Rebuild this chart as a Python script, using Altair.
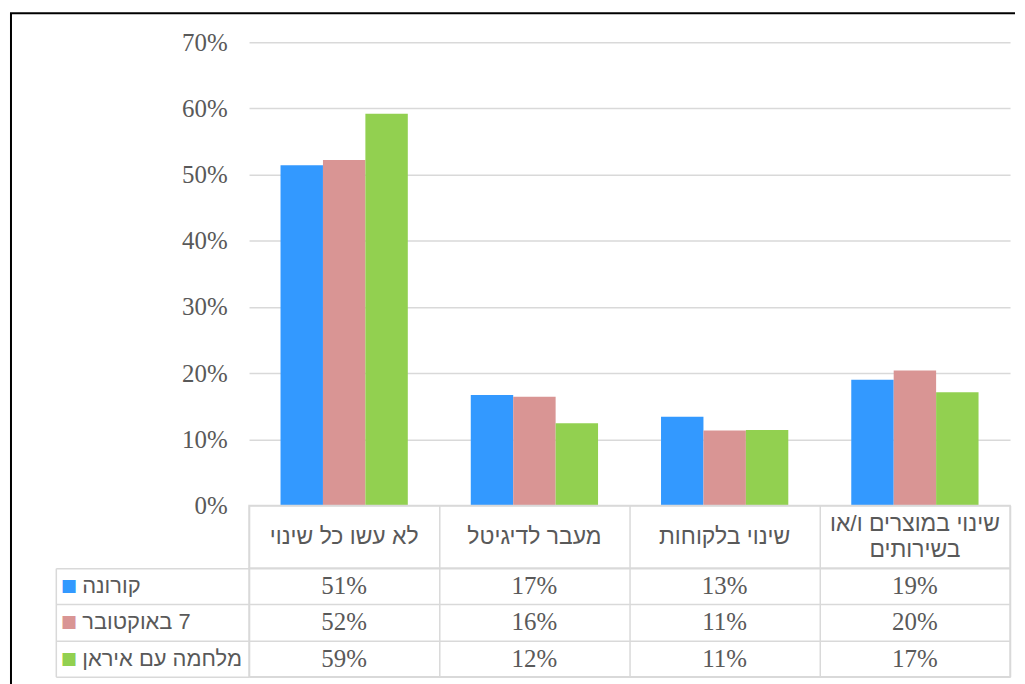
import altair as alt
import pandas as pd

categories = ["לא עשו כל שינוי", "מעבר לדיגיטל", "שינוי בלקוחות", "שינוי במוצרים ו/או בשירותים"]
header_lines = [["לא עשו כל שינוי"], ["מעבר לדיגיטל"], ["שינוי בלקוחות"], ["שינוי במוצרים ו/או", "בשירותים"]]
series = ["קורונה", "7 באוקטובר", "מלחמה עם איראן"]
colors = ["#3399FF", "#D99594", "#92D050"]
corona = [0.514, 0.167, 0.134, 0.19]
october7 = [0.522, 0.164, 0.113, 0.204]
iran = [0.592, 0.124, 0.114, 0.171]
y_ticks = [0, 0.1, 0.2, 0.3, 0.4, 0.5, 0.6, 0.7]

SERIF = "Liberation Serif, DejaVu Serif, serif"
SANS = "Liberation Sans, DejaVu Sans, sans-serif"
GRAY = "#595959"
LINE = "#D9D9D9"

rows = []
for s, vals in zip(series, [corona, october7, iran]):
    for c, v in zip(categories, vals):
        rows.append({"category": c, "series": s, "value": v})
df = pd.DataFrame(rows)
header_df = pd.DataFrame({"category": categories, "lines": header_lines})

W = 764

bar_layer = alt.Chart(df).mark_bar().encode(
    x=alt.X("category:N", sort=categories,
            scale=alt.Scale(paddingInner=0.331, paddingOuter=0.1655), axis=None),
    xOffset=alt.XOffset("series:N", sort=series, scale=alt.Scale(paddingInner=0, paddingOuter=0)),
    y=alt.Y("value:Q", scale=alt.Scale(domain=[0, 0.7], nice=False),
            axis=alt.Axis(values=y_ticks, format=".0%", grid=True, gridColor=LINE, gridWidth=1.5,
                          domain=False, ticks=False, labelPadding=22, labelFont=SERIF,
                          labelFontSize=25, labelColor=GRAY, title=None)),
    color=alt.Color("series:N", sort=series, scale=alt.Scale(domain=series, range=colors), legend=None),
)

# outer chart-area frame (decorative border, left and top)
frame_left = alt.Chart().mark_rule(color="black", strokeWidth=2).encode(
    x=alt.value(-239), y=alt.value(-29), y2=alt.value(650))
frame_top = alt.Chart().mark_rule(color="black", strokeWidth=2).encode(
    x=alt.value(-240), x2=alt.value(769), y=alt.value(-29))

bars = alt.layer(bar_layer, frame_left, frame_top).properties(
    width=W, height=465, view=alt.ViewBackground(stroke="transparent"))

x_table = alt.X("category:N", sort=categories, scale=alt.Scale(paddingInner=0, paddingOuter=0),
                axis=alt.Axis(orient="top", grid=True, gridColor=LINE, gridWidth=1.5, tickBand="extent",
                              labels=False, ticks=False, domain=False, title=None))

header_base = alt.Chart(header_df).encode(x=x_table, text="lines")
header_single = header_base.transform_filter("length(datum.lines) == 1").mark_text(
    font=SANS, fontSize=23, color=GRAY)
header_multi = header_base.transform_filter("length(datum.lines) > 1").mark_text(
    font=SANS, fontSize=23, color=GRAY, lineHeight=26, dy=-13)
header = alt.layer(header_single, header_multi).properties(width=W, height=63)

base = alt.Chart(df).encode(x=x_table)
y_sort = dict(sort=series, scale=alt.Scale(paddingInner=0, paddingOuter=0))

values_layer = base.mark_text(font=SERIF, fontSize=25, color=GRAY).encode(
    y=alt.Y("series:N", **y_sort,
            axis=alt.Axis(orient="left", grid=True, gridColor=LINE, gridWidth=1.5, tickBand="extent",
                          ticks=True, tickSize=194, tickColor=LINE, tickWidth=1.5,
                          labels=False, domain=False, title=None)),
    text=alt.Text("value:Q", format=".0%"),
)

names_layer = base.mark_text(opacity=0).encode(
    y=alt.Y("series:N", **y_sort,
            axis=alt.Axis(orient="left", offset=168, labelAlign="left", labelPadding=0,
                          ticks=False, domain=False, grid=False, labelFont=SANS, labelFontSize=22,
                          labelColor=GRAY, labelExpr="'\u200f' + datum.label", title=None)),
    text="series:N",
)

square_color = {
    "condition": [
        {"test": f"datum.value === '{series[0]}'", "value": colors[0]},
        {"test": f"datum.value === '{series[1]}'", "value": colors[1]},
    ],
    "value": colors[2],
}

squares_layer = base.mark_text(opacity=0).encode(
    y=alt.Y("series:N", **y_sort,
            axis=alt.Axis(orient="left", offset=189, labelAlign="left", labelPadding=0,
                          ticks=False, domain=False, grid=False, labelFont="DejaVu Sans",
                          labelFontSize=17, labelColor=square_color, labelExpr="'■'", title=None)),
    text="series:N",
)

border_layer = base.mark_text(opacity=0).encode(
    y=alt.Y("series:N", **y_sort,
            axis=alt.Axis(orient="left", offset=194, labels=False, ticks=False, grid=False,
                          domain=True, domainColor=LINE, domainWidth=1.5, title=None)),
    text="series:N",
)

table = alt.layer(values_layer, names_layer, squares_layer, border_layer).resolve_axis(
    y="independent").properties(width=W, height=109)

chart = alt.vconcat(bars, header, table, spacing=0, bounds="flush").properties(
    padding={"left": 0, "top": 2, "right": 0, "bottom": 0}
).configure_view(stroke=LINE, strokeWidth=1.5)

chart.save("out.html", embed_options={"renderer": "svg", "actions": False})
